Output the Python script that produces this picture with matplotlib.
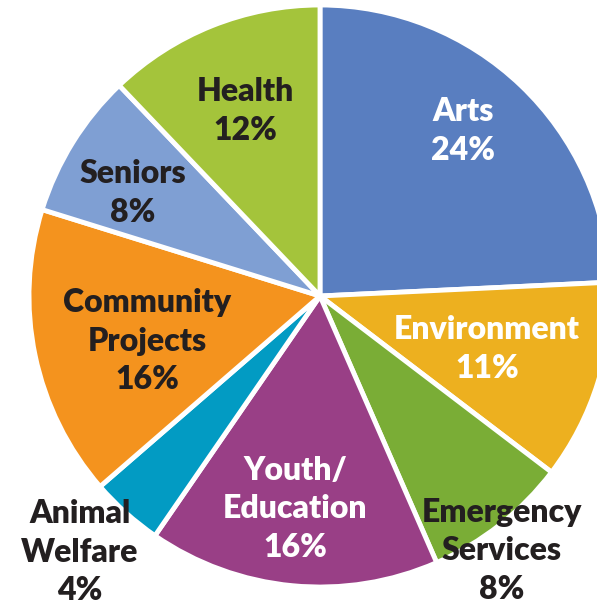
import matplotlib.pyplot as plt

# slices, clockwise from the top
categories = ["Arts", "Environment", "Emergency\nServices", "Youth/\nEducation",
              "Animal\nWelfare", "Community\nProjects", "Seniors", "Health"]
shares = [24, 11, 8, 16, 4, 16, 8, 12]
colors = ["#597ec0", "#edb01f", "#7aad36", "#993f86",
          "#029bc3", "#f4931e", "#7f9fd3", "#a4c43b"]
text_colors = ["white", "white", "#231f20", "white",
               "#231f20", "#231f20", "#231f20", "#231f20"]
# label centres in pixels (from top left)
label_pos = [(463, 131), (487, 349), (502, 551), (295, 509),
             (80, 552), (147, 341), (133, 193), (245, 111)]

W, H = 597, 605
fig = plt.figure(figsize=(W / 100, H / 100), dpi=100)
ax = fig.add_axes([0, 0, 1, 1])
ax.set_xlim(0, W)
ax.set_ylim(0, H)
ax.set_aspect("equal")
ax.axis("off")

ax.pie(shares, colors=colors, startangle=90, counterclock=False,
       center=(320, H - 296), radius=291,
       wedgeprops=dict(edgecolor="white", linewidth=3.5))

for cat, val, (x, y), tc in zip(categories, shares, label_pos, text_colors):
    ax.text(x, H - y, f"{cat}\n{val}%", ha="center", va="center",
            color=tc, fontsize=23, fontweight="heavy", family="Lato",
            linespacing=1.38)

ax.set_xlim(0, W)
ax.set_ylim(0, H)
fig.savefig("out.png", dpi=100)
